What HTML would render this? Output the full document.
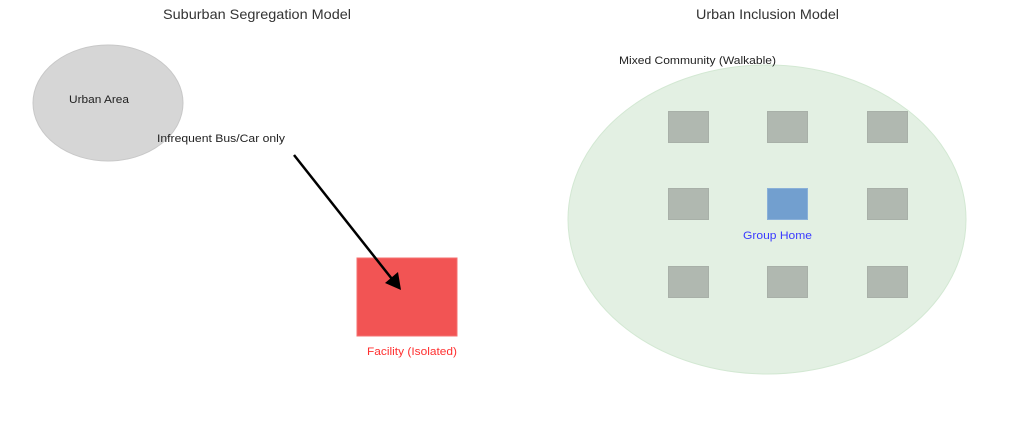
<!DOCTYPE html>
<html>
<head>
<meta charset="utf-8">
<style>
html,body{margin:0;padding:0;background:#fff;}
svg{display:block;}
text{font-family:"Liberation Sans",sans-serif;}
</style>
</head>
<body>
<svg width="1024" height="422" viewBox="0 0 1024 422" xmlns="http://www.w3.org/2000/svg">
<rect width="1024" height="422" fill="#fff"/>
<!-- Titles -->
<text x="163" y="19" font-size="14" fill="#333" textLength="188" lengthAdjust="spacingAndGlyphs">Suburban Segregation Model</text>
<text x="696" y="19" font-size="14" fill="#333" textLength="143" lengthAdjust="spacingAndGlyphs">Urban Inclusion Model</text>

<!-- Left: Urban area -->
<ellipse cx="108" cy="103" rx="75" ry="58" fill="#d6d6d6" stroke="#c8c8c8" stroke-width="1"/>
<text x="69" y="103" font-size="11" fill="#222" textLength="60" lengthAdjust="spacingAndGlyphs">Urban Area</text>
<text x="157" y="142" font-size="11" fill="#222" textLength="128" lengthAdjust="spacingAndGlyphs">Infrequent Bus/Car only</text>

<!-- Facility -->
<rect x="357" y="258" width="100" height="78" fill="#f25454" stroke="#f47070" stroke-width="1"/>
<text x="367" y="355" font-size="11" fill="#ff3030" textLength="90" lengthAdjust="spacingAndGlyphs">Facility (Isolated)</text>

<!-- Arrow -->
<line x1="294" y1="155" x2="392" y2="279" stroke="#000" stroke-width="2.5"/>
<polygon points="401,290 385,283 398,272" fill="#000"/>

<!-- Right: community -->
<ellipse cx="767" cy="219.5" rx="199" ry="154.5" fill="#e3f0e3" stroke="#d3e8d3" stroke-width="1"/>
<text x="619" y="64" font-size="11" fill="#222" textLength="157" lengthAdjust="spacingAndGlyphs">Mixed Community (Walkable)</text>

<g fill="#b0b8b0" stroke="#a8b0a8" stroke-width="1">
<rect x="668.5" y="111.5" width="40" height="31"/>
<rect x="767.5" y="111.5" width="40" height="31"/>
<rect x="867.5" y="111.5" width="40" height="31"/>
<rect x="668.5" y="188.5" width="40" height="31"/>
<rect x="867.5" y="188.5" width="40" height="31"/>
<rect x="668.5" y="266.5" width="40" height="31"/>
<rect x="767.5" y="266.5" width="40" height="31"/>
<rect x="867.5" y="266.5" width="40" height="31"/>
</g>
<rect x="767.5" y="188.5" width="40" height="31" fill="#729fcf" stroke="#8ab0d8" stroke-width="1"/>
<text x="743" y="239" font-size="11" fill="#3a3aff" textLength="69" lengthAdjust="spacingAndGlyphs">Group Home</text>
</svg>
</body>
</html>
